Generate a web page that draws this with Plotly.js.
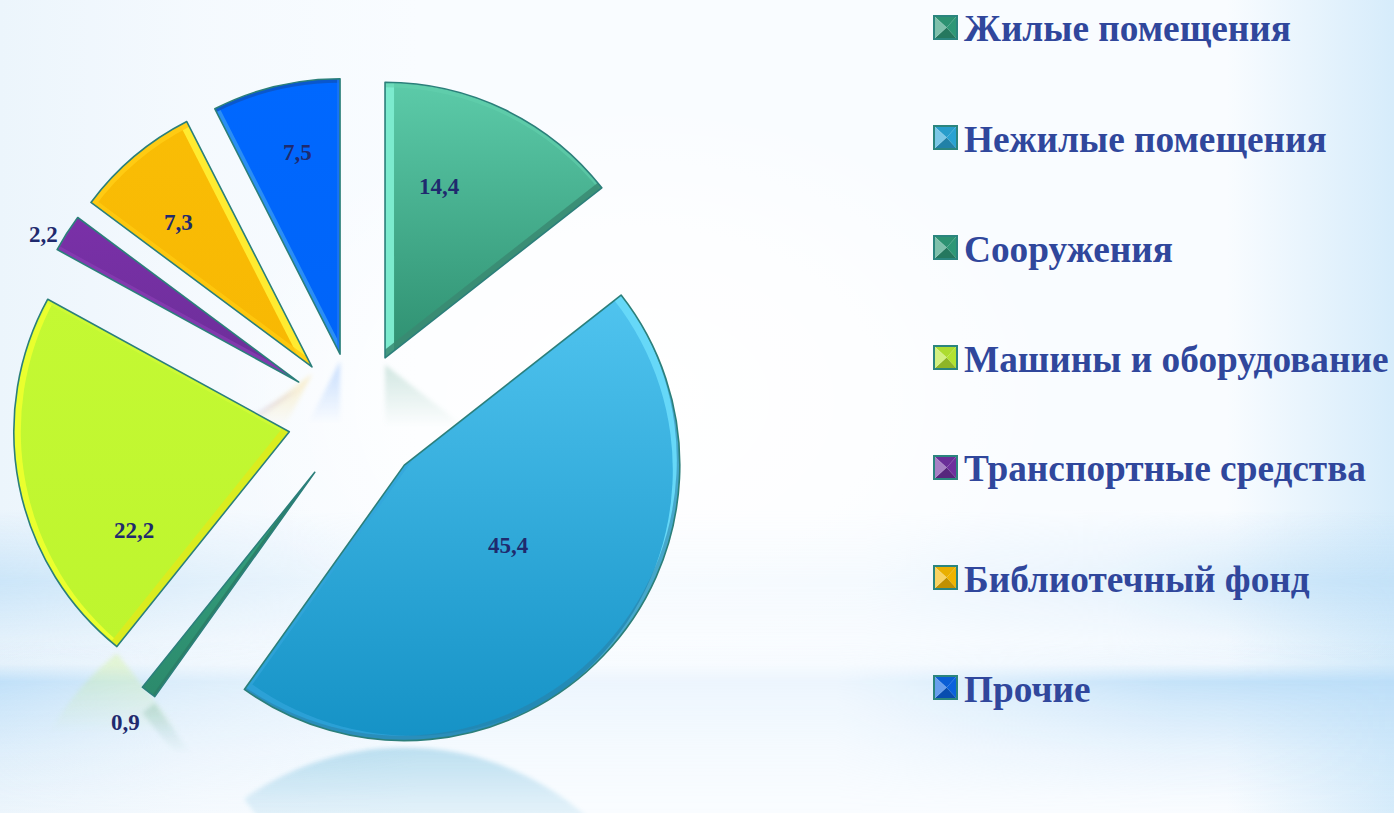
<!DOCTYPE html>
<html lang="ru"><head><meta charset="utf-8">
<script src="https://cdn.plot.ly/plotly-3.0.1.min.js"></script>
<style>
html,body{margin:0;padding:0;width:1394px;height:813px;overflow:hidden}
body{position:relative;background:
 radial-gradient(ellipse 420px 300px at 640px 400px,rgba(255,255,255,1) 0%,rgba(255,255,255,.7) 55%,rgba(255,255,255,0) 100%),
 linear-gradient(90deg,rgba(236,245,252,1) 0%,rgba(240,247,253,.5) 14%,rgba(240,247,253,0) 30%,rgba(215,236,250,0) 88%,rgba(208,233,250,.85) 100%),
 #f9fcff;}
.band{position:absolute;left:0;width:1394px}
#bandA{top:510px;height:150px;
 background:linear-gradient(180deg,rgba(196,226,248,0) 0%,rgba(196,226,248,1) 47%,rgba(196,226,248,.9) 55%,rgba(196,226,248,0) 100%);
 -webkit-mask-image:linear-gradient(90deg,rgba(0,0,0,.8) 0%,rgba(0,0,0,.45) 12%,rgba(0,0,0,.1) 30%,rgba(0,0,0,.1) 62%,rgba(0,0,0,.3) 80%,rgba(0,0,0,1) 100%);
 mask-image:linear-gradient(90deg,rgba(0,0,0,.8) 0%,rgba(0,0,0,.45) 12%,rgba(0,0,0,.1) 30%,rgba(0,0,0,.1) 62%,rgba(0,0,0,.3) 80%,rgba(0,0,0,1) 100%);}
#bandB{top:640px;height:173px;
 background:linear-gradient(180deg,rgba(188,222,248,0) 0%,rgba(188,222,248,.2) 14%,rgba(188,222,248,1) 24%,rgba(188,222,248,.7) 38%,rgba(188,222,248,.3) 65%,rgba(188,222,248,.05) 90%,rgba(188,222,248,0) 100%);
 -webkit-mask-image:linear-gradient(90deg,rgba(0,0,0,.9) 0%,rgba(0,0,0,.45) 12%,rgba(0,0,0,.2) 30%,rgba(0,0,0,.2) 60%,rgba(0,0,0,.85) 84%,rgba(0,0,0,1) 100%);
 mask-image:linear-gradient(90deg,rgba(0,0,0,.9) 0%,rgba(0,0,0,.45) 12%,rgba(0,0,0,.2) 30%,rgba(0,0,0,.2) 60%,rgba(0,0,0,.85) 84%,rgba(0,0,0,1) 100%);}
#chart{position:absolute;left:0;top:0;width:1394px;height:813px}
</style></head><body><div class="band" id="bandA"></div><div class="band" id="bandB"></div><div id="chart"></div>
<script>
const categories=["Жилые помещения","Нежилые помещения","Сооружения","Машины и оборудование","Транспортные средства","Библиотечный фонд","Прочие"];
const values=[14.4,45.4,0.9,22.2,2.2,7.3,7.5];
const pulls=[0.245,0.245,0.245,0.245,0.245,0.245,0.24];
const topColors=["#5CCBA9","#50C4EF","#35A582","#C4F933","#7A30A8","#F9BD05","#0068FF"];
const bottomColors=["#2E8F70","#1592C6","#2C8A6C","#BEF52E","#6B2F98","#F8B803","#0064F8"];
const swatchColors=["#2F9A78","#2AA5D6","#2F9A78","#B6E832","#7030A0","#F5B800","#0A63E0"];
const labelPx=[[439,186],[508,545],[125,722],[134,530],[43,234],[178,222],[297,152]];
// bevel rims: [dx, dy, colour, opacity]
const bevels=[
 [[9,1,"#7CEBCE",1],[0,5,"#62D0AE",.6],[-4,-5,"#3A8A72",.85]],
 [[8,-5,"#33A6DC",.7],[-7,5,"#66D8F8",1],[-3,-5,"#2A7FA6",.55]],
 [[-2,-2,"#2B7F66",.9]],
 [[7,0,"#EAFF2E",1],[0,4,"#D4FB38",.7],[-5,-6,"#DDEB1E",.9]],
 [[3,-3,"#8A3DB5",.7]],
 [[-10,-3,"#FFEB30",1],[3,5,"#FFCC14",.9],[3,-4,"#FFCB10",.8]],
 [[4,-2,"#2A8EF5",1],[0,4,"#0C55C4",.85],[-3,0,"#1C76F5",.8]]
];
const W=1394,H=813;
const cx=355.5,cy=418.5,radius=275.5;
const half=radius*(1+Math.max(...pulls));
const px=x=>x/W, py=y=>1-y/H;
const fmt=v=>v.toFixed(1).replace('.',',');
const legendX=934,legendSize=23,legendY0=27.5,legendStep=110;

function shade(hex,f){
 const n=parseInt(hex.slice(1),16);let c=[n>>16,(n>>8)&255,n&255];
 c=c.map(v=>Math.round(f>0?v+(255-v)*f:v*(1+f)));
 return `rgb(${c[0]},${c[1]},${c[2]})`;
}
const shapes=[],annotations=[];
categories.forEach((name,i)=>{
 const yc=legendY0+i*legendStep,s=legendSize;
 const L=legendX,R=L+s,T=yc-s/2,B=yc+s/2,mx=L+s/2+1,my=yc;
 const tri=(a,b,c,col)=>shapes.push({type:'path',xref:'paper',yref:'paper',
   path:`M ${a[0]/W} ${py(a[1])} L ${b[0]/W} ${py(b[1])} L ${c[0]/W} ${py(c[1])} Z`,
   fillcolor:col,line:{width:0}});
 const base=swatchColors[i];
 tri([L,T],[R,T],[mx,my],shade(base,-.05));
 tri([R,T],[R,B],[mx,my],shade(base,-.02));
 tri([L,B],[R,B],[mx,my],shade(base,-.22));
 tri([L,T],[L,B],[mx,my],shade(base,.38));
 shapes.push({type:'rect',xref:'paper',yref:'paper',x0:px(L),x1:px(R),y0:py(B),y1:py(T),
   line:{color:'#2B857E',width:2},fillcolor:'rgba(0,0,0,0)'});
 annotations.push({xref:'paper',yref:'paper',x:px(962),y:py(yc+1.5),xanchor:'left',yanchor:'middle',
   text:name,showarrow:false,align:'left',
   font:{family:'"Liberation Serif",serif',size:37.3,weight:700,color:'#30479C'}});
});
values.forEach((v,i)=>{
 annotations.push({xref:'paper',yref:'paper',x:px(labelPx[i][0]),y:py(labelPx[i][1]),
  xanchor:'center',yanchor:'middle',text:fmt(v),showarrow:false,
  font:{family:'"Liberation Serif",serif',size:23,weight:700,color:'#1F2A6E'}});
});
const data=[{type:'pie',labels:categories,values:values,pull:pulls,sort:false,direction:'clockwise',rotation:0,
 textinfo:'none',hoverinfo:'label+value',showlegend:false,
 marker:{colors:swatchColors,line:{width:0}},
 domain:{x:[(cx-half)/W,(cx+half)/W],y:[1-(cy+half)/H,1-(cy-half)/H]}}];
const layout={width:W,height:H,margin:{l:0,r:0,t:0,b:0},paper_bgcolor:'rgba(0,0,0,0)',plot_bgcolor:'rgba(0,0,0,0)',
 showlegend:false,shapes:shapes,annotations:annotations};
Plotly.newPlot('chart',data,layout,{displayModeBar:false,staticPlot:true}).then(gd=>{
 const NS='http://www.w3.org/2000/svg';
 const svg=gd.querySelector('svg.main-svg');
 const mk=(t,a={},p)=>{const e=document.createElementNS(NS,t);for(const k in a)e.setAttribute(k,a[k]);if(p)p.appendChild(e);return e;};
 const defs=mk('defs');svg.insertBefore(defs,svg.firstChild);
 const blur=mk('filter',{id:'reflBlur',x:'-10%',y:'-10%',width:'120%',height:'120%'},defs);
 mk('feGaussianBlur',{stdDeviation:2.2},blur);
 const paths=[...gd.querySelectorAll('.slice path.surface')];
 const pieTrace=paths[0].closest('.trace');
 const reflLayer=mk('g',{class:'reflections'});
 pieTrace.parentNode.insertBefore(reflLayer,pieTrace);
 paths.forEach((p,i)=>{
  const g=mk('linearGradient',{id:'grad'+i,x1:0,y1:0,x2:0,y2:1},defs);
  mk('stop',{offset:0,'stop-color':topColors[i]},g);
  mk('stop',{offset:1,'stop-color':bottomColors[i]},g);
  const r=p.getBoundingClientRect();
  // reflection
  const mirror=r.bottom+3.5, fade=r.height*0.24;
  const mg=mk('linearGradient',{id:'fade'+i,gradientUnits:'userSpaceOnUse',x1:0,y1:mirror,x2:0,y2:mirror+fade},defs);
  mk('stop',{offset:0,'stop-color':'#fff','stop-opacity':i===1?.26:.22},mg);
  mk('stop',{offset:1,'stop-color':'#fff','stop-opacity':0},mg);
  const mask=mk('mask',{id:'mask'+i,maskUnits:'userSpaceOnUse',x:0,y:0,width:W,height:H},defs);
  mk('rect',{x:0,y:mirror-4,width:W,height:fade+6,fill:'url(#fade'+i+')'},mask);
  const outer=mk('g',{mask:'url(#mask'+i+')'},reflLayer);
  const flip=mk('g',{transform:`translate(0 ${2*mirror}) scale(1 -1)`,filter:'url(#reflBlur)'},outer);
  const c=p.cloneNode(false);c.style.fill=bottomColors[i];c.style.stroke='none';flip.appendChild(c);
  // bevel filter
  const f=mk('filter',{id:'bevel'+i,x:'-5%',y:'-5%',width:'110%',height:'110%','color-interpolation-filters':'sRGB'},defs);
  const names=[];
  bevels[i].forEach((b,j)=>{
   mk('feOffset',{in:'SourceAlpha',dx:b[0],dy:b[1],result:'o'+j},f);
   mk('feComposite',{in:'SourceAlpha',in2:'o'+j,operator:'out',result:'r'+j},f);
   mk('feGaussianBlur',{in:'r'+j,stdDeviation:.6,result:'b'+j},f);
   mk('feFlood',{'flood-color':b[2],'flood-opacity':b[3],result:'c'+j},f);
   mk('feComposite',{in:'c'+j,in2:'b'+j,operator:'in',result:'l'+j},f);
   names.push('l'+j);
  });
  const m=mk('feMerge',{result:'m'},f);
  mk('feMergeNode',{in:'SourceGraphic'},m);
  names.forEach(n=>mk('feMergeNode',{in:n},m));
  mk('feComposite',{in:'m',in2:'SourceAlpha',operator:'in'},f);
  const outline=p.cloneNode(false);
  outline.style.fill='none';outline.style.stroke='#2B7F7A';outline.style.strokeWidth='1.6px';outline.style.strokeLinejoin='round';
  p.style.fill='url(#grad'+i+')';p.style.stroke='none';p.style.strokeWidth='0';
  p.setAttribute('filter','url(#bevel'+i+')');
  p.parentNode.appendChild(outline);
 });
});
</script></body></html>
